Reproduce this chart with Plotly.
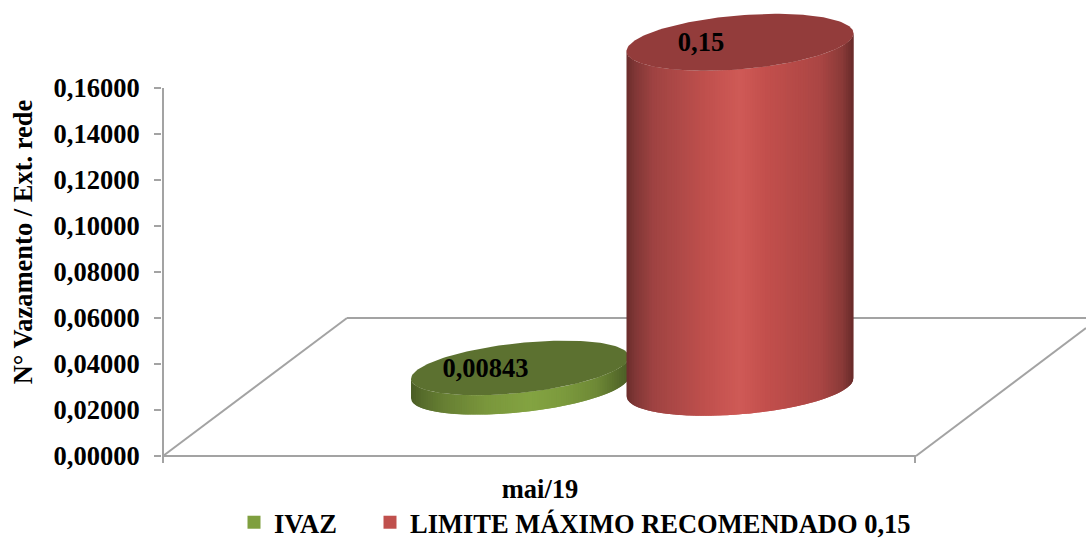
import math
import plotly.graph_objects as go

# ---- data ----
categories = ["mai/19"]
series_names = ["IVAZ", "LIMITE MÁXIMO RECOMENDADO 0,15"]
ivaz_values = [0.00843]
limite_values = [0.15]
value_labels = ["0,00843", "0,15"]
y_tick_values = [0.00, 0.02, 0.04, 0.06, 0.08, 0.10, 0.12, 0.14, 0.16]
axis_title = "N° Vazamento / Ext. rede"

# ---- 3D look (pixel-like x axis, value-unit y axis) ----
W, H = 1086, 538
PX = 2300.0            # pixels per value unit
Y0 = 455.5             # pixel row of value 0
L, BOTTOM = 162, 484   # plot-area left edge / bottom edge (pixels)
FONT = "Liberation Serif"
FS = 26.5
GREY = "#a3a3a3"


def v(py):
    return (Y0 - py) / PX


FLOOR = v(387.3)       # cylinders stand on the floor, behind the front edge
LABEL_LIFT = -2.5 / PX # data labels sit on the cylinder tops
RED_STOPS = [(0, "#6b2c2b"), (.04, "#813736"), (.12, "#9f4342"), (.35, "#c0504d"), (.5, "#cf5a56"),
             (.62, "#c24f4c"), (.85, "#ab4644"), (.95, "#8a3a38"), (1, "#672a29")]
GREEN_STOPS = [(0, "#4a5c25"), (.05, "#566c2b"), (.15, "#677f33"), (.35, "#7a973c"), (.55, "#83a341"),
               (.7, "#7c9a3d"), (.85, "#6e8936"), (1, "#4a5c25")]


def rgb(h):
    return [int(h[i:i + 2], 16) for i in (1, 3, 5)]


def shade(stops, f):
    for (a, ca), (b, cb) in zip(stops, stops[1:]):
        if f <= b:
            k = (f - a) / (b - a)
            p, q = rgb(ca), rgb(cb)
            return "rgb(%d,%d,%d)" % tuple(round(p[i] + (q[i] - p[i]) * k) for i in range(3))
    return stops[-1][1]


def front_edge(f, tilt, depth):
    """Vertical offset (value units) of the ellipse's front edge at width fraction f."""
    c = 2 * f - 1
    return (tilt * c - depth * math.sqrt(max(0.0, 1 - c * c))) / PX


def cylinder(value, name_idx, cx, a, tilt, depth, stops, top_color, n=90, sub=6):
    traces = []
    top = FLOOR + value
    for i in range(n):
        # each strip overlaps the next one so no seam shows between them
        end = min(n, i + 2)
        fs = [(i + (end - i) * j / sub) / n for j in range(sub + 1)]
        xs = [cx - a + 2 * a * f for f in fs]
        up = [top + front_edge(f, tilt, depth) for f in fs]
        lo = [FLOOR + front_edge(f, tilt, depth) for f in fs]
        col = shade(stops, (i + .5) / n)
        traces.append(go.Scatter(x=xs + xs[::-1], y=up + lo[::-1], mode="lines", fill="toself",
                                 fillcolor=col, line=dict(color=col, width=0),
                                 hoverinfo="skip", showlegend=False))
    ts = [2 * math.pi * k / 160 for k in range(161)]
    traces.append(go.Scatter(x=[cx + a * math.cos(t) for t in ts],
                             y=[top + (tilt * math.cos(t) + depth * math.sin(t)) / PX for t in ts],
                             mode="lines", fill="toself", fillcolor=top_color,
                             line=dict(color=top_color, width=0),
                             name=series_names[name_idx], hoverinfo="x+y", showlegend=False))
    return traces


fig = go.Figure()
for tr in cylinder(ivaz_values[0], 0, 520, 109, 11, 25, GREEN_STOPS, "#5c7130"):
    fig.add_trace(tr)
for tr in cylinder(limite_values[0], 1, 740, 113.5, 9, 27, RED_STOPS, "#933c3b"):
    fig.add_trace(tr)

# data labels
fig.add_trace(go.Scatter(x=[485.5, 701],
                         y=[FLOOR + ivaz_values[0] + LABEL_LIFT, FLOOR + limite_values[0] + LABEL_LIFT],
                         mode="text", text=value_labels, textposition="middle center",
                         textfont=dict(family=FONT, size=FS, color="#000000", weight=700),
                         hoverinfo="skip", showlegend=False))

# legend entries
for nm, col, lg in [(series_names[0], "#7f9f3f", "legend"), (series_names[1], "#c0504d", "legend2")]:
    fig.add_trace(go.Scatter(x=[None], y=[None], mode="markers", name=nm, legend=lg,
                             marker=dict(symbol="square", size=13, color=col)))


def seg(x0, p0, x1, p1, width=2):
    return dict(type="line", xref="x", yref="y", layer="below", x0=x0, x1=x1, y0=v(p0), y1=v(p1),
                line=dict(color=GREY, width=width))


shapes = [
    seg(163, 88, 163, 463),        # value axis
    seg(163, 456, 916, 456),       # floor front
    seg(915, 456, 915, 463),       # floor tick
    seg(163, 456, 347, 318),       # floor left
    seg(347, 318, 1086, 318),      # floor back
    seg(916, 456, 1086, 328),      # floor right
]


def px(x):
    return (x - L) / (W - L)


def py(y):
    return (BOTTOM - y) / BOTTOM


legend_common = dict(orientation="h", yanchor="top", xanchor="left", y=py(498.5), maxheight=60,
                     borderwidth=0, tracegroupgap=0,
                     bgcolor="rgba(0,0,0,0)", itemclick=False, itemdoubleclick=False,
                     font=dict(family=FONT, size=FS, color="#000000", weight=700))

fig.update_layout(
    width=W, height=H,
    margin=dict(l=L, r=0, t=0, b=H - BOTTOM, pad=0, autoexpand=False),
    paper_bgcolor="white", plot_bgcolor="white",
    separators=", ",
    showlegend=True,
    shapes=shapes,
    legend=dict(x=px(234), **legend_common),
    legend2=dict(x=px(370), **legend_common),
    xaxis=dict(range=[L, W], showgrid=False, zeroline=False, showline=False, ticks="",
               tickvals=[540], ticktext=categories, ticklabelstandoff=-14,
               tickfont=dict(family=FONT, size=FS, color="#000000", weight=700)),
    yaxis=dict(range=[v(BOTTOM), v(0)], showgrid=False, zeroline=False, showline=False,
               ticks="outside", ticklen=7, tickwidth=2, tickcolor=GREY,
               tickvals=y_tick_values, tickformat=".5f", ticklabelstandoff=9,
               tickfont=dict(family=FONT, size=FS, color="#000000", weight=700),
               title=dict(text=axis_title, standoff=13,
                          font=dict(family=FONT, size=FS, color="#000000", weight=700))),
    font=dict(family=FONT, color="#000000"),
)

fig.write_html("out.html", post_script="document.body.style.margin='0';",
               config={"displayModeBar": False})
